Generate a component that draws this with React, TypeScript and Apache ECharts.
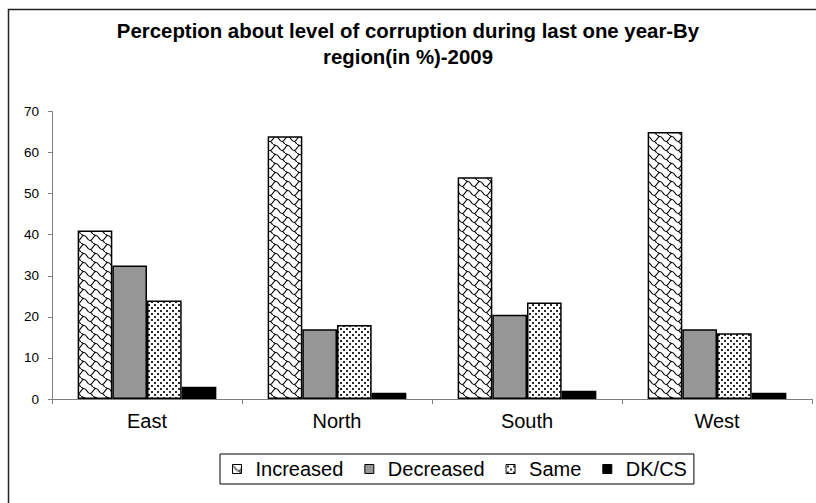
import React, { useEffect, useRef } from 'react';
import * as echarts from 'echarts';

const categories = ['East', 'North', 'South', 'West'];
const seriesNames = ['Increased', 'Decreased', 'Same', 'DK/CS'];
const increased = [41, 64, 54, 65];
const decreased = [32.5, 17, 20.5, 17];
const same = [24, 18, 23.5, 16];
const dkcs = [3, 1.5, 2, 1.5];
const yMin = 0;
const yMax = 70;
const yInterval = 10;
const titleText = 'Perception about level of corruption during last one year-By\nregion(in %)-2009';

const FONT = "'Liberation Sans', Arial, sans-serif";

function makeIncreasedPattern() {
  const c = document.createElement('canvas');
  c.width = 12;
  c.height = 9;
  const ctx = c.getContext('2d')!;
  ctx.fillStyle = '#ffffff';
  ctx.fillRect(0, 0, 12, 9);
  ctx.strokeStyle = '#000000';
  ctx.lineWidth = 1.2;
  ctx.beginPath();
  ctx.moveTo(0, 1.5);
  ctx.bezierCurveTo(3, 1.5, 3, 6.5, 6, 6.5);
  ctx.bezierCurveTo(8, 6.5, 8, 9, 9, 9);
  ctx.moveTo(6, 6.5);
  ctx.bezierCurveTo(9, 6.5, 9, 1.5, 12, 1.5);
  ctx.moveTo(9, 0);
  ctx.bezierCurveTo(10, 0, 10, 1.5, 12, 1.5);
  ctx.stroke();
  return c;
}

function makeSamePattern() {
  const c = document.createElement('canvas');
  c.width = 6;
  c.height = 6;
  const ctx = c.getContext('2d')!;
  ctx.fillStyle = '#ffffff';
  ctx.fillRect(0, 0, 6, 6);
  ctx.fillStyle = '#2a2a2a';
  ctx.fillRect(1, 1, 2, 2);
  ctx.fillRect(4, 4, 2, 2);
  return c;
}

export default function App() {
  const ref = useRef<HTMLDivElement>(null);

  useEffect(() => {
    if (!ref.current) return;
    const chart = echarts.init(ref.current, null, { renderer: 'svg' });
    const incCanvas = makeIncreasedPattern();
    const sameCanvas = makeSamePattern();
    const incPattern: any = {
      image: incCanvas,
      repeat: 'repeat',
      imageWidth: 12,
      imageHeight: 9,
    };
    const samePattern: any = {
      image: sameCanvas,
      repeat: 'repeat',
      imageWidth: 6,
      imageHeight: 6,
    };
    const fills: any[] = [incPattern, '#969696', samePattern, '#000000'];
    const data = [increased, decreased, same, dkcs];

    chart.setOption({
      animation: false,
      backgroundColor: '#ffffff',
      textStyle: { fontFamily: FONT },
      title: {
        text: titleText,
        left: 'center',
        top: 18,
        padding: 0,
        textStyle: {
          fontFamily: FONT,
          fontSize: 20.4,
          fontWeight: 'bold',
          lineHeight: 26,
          color: '#000000',
        },
      },
      graphic: [
        {
          type: 'rect',
          z: -10,
          silent: true,
          shape: { x: 8.5, y: 9.5, width: 1000, height: 1000 },
          style: { fill: 'none', stroke: '#222222', lineWidth: 1.5 },
        },
      ],
      legend: {
        left: 220,
        top: 454,
        orient: 'horizontal',
        selectedMode: false,
        icon: 'rect',
        borderColor: '#000000',
        borderWidth: 1,
        padding: [5, 7, 5, 12],
        itemWidth: 9,
        itemHeight: 9,
        itemGap: 21,
        itemStyle: { borderWidth: 1, borderColor: '#000000' },
        formatter: (name: string) => '{t|' + name + '}',
        textStyle: {
          fontFamily: FONT,
          fontSize: 20,
          color: '#000000',
          rich: {
            t: { fontFamily: FONT, fontSize: 20, color: '#000000', padding: [0, 0, 0, 9] },
          },
        },
        data: seriesNames,
      },
      grid: {
        left: 52,
        right: 4,
        top: 111.5,
        bottom: 104,
        containLabel: false,
      },
      xAxis: {
        type: 'category',
        data: categories,
        boundaryGap: true,
        axisLine: { show: true, lineStyle: { color: '#808080', width: 1 } },
        axisTick: { show: true, interval: 0, length: 5, alignWithLabel: false, lineStyle: { color: '#808080' } },
        axisLabel: { fontFamily: FONT, fontSize: 20, color: '#000000', margin: 12 },
        splitLine: { show: false },
      },
      yAxis: {
        type: 'value',
        min: yMin,
        max: yMax,
        interval: yInterval,
        axisLine: { show: true, lineStyle: { color: '#808080', width: 1 } },
        axisTick: { show: true, length: 4, lineStyle: { color: '#808080' } },
        axisLabel: { fontFamily: FONT, fontSize: 13.5, color: '#000000', margin: 13 },
        splitLine: { show: false },
      },
      series: seriesNames.map((name, i) => ({
        name,
        type: 'bar',
        data: data[i],
        barGap: '0%',
        barCategoryGap: '27%',
        itemStyle: {
          color: fills[i],
          borderColor: '#000000',
          borderWidth: 1.5,
        },
      })),
    });

    return () => {
      chart.dispose();
    };
  }, []);

  return (
    <div
      ref={ref}
      style={{ position: 'fixed', left: 0, top: 0, width: 816, height: 503, background: '#fff' }}
    />
  );
}
